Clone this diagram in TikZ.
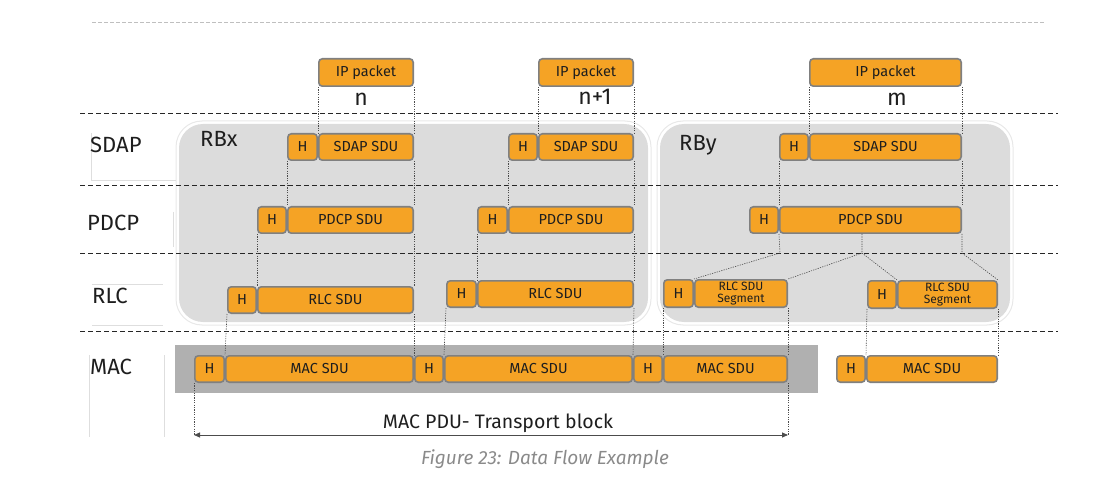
\documentclass[tikz,border=0pt]{standalone}
\usepackage{fontspec}
\setmainfont{Fira Sans}
\usetikzlibrary{arrows.meta}
\definecolor{orng}{HTML}{F5A325}
\definecolor{bdr}{HTML}{808080}
\definecolor{rbg}{HTML}{DCDCDC}
\definecolor{rbo}{HTML}{E8E8E8}
\definecolor{macg}{HTML}{B0B0B0}
\definecolor{capg}{HTML}{8A8A8A}
\definecolor{txt}{HTML}{1E1E1E}
\definecolor{faint}{HTML}{DEDEDE}
\newcommand\ORbox[6]{%
  \pgfmathsetmacro\bcx{(#2+#4)/2}\pgfmathsetmacro\bcy{(#3+#5)/2}%
  \pgfmathsetmacro\bww{#4-#2-1.6}\pgfmathsetmacro\bhh{#5-#3-1.6}%
  \node[obox,minimum width=\bww pt,minimum height=\bhh pt] (#1) at (\bcx,\bcy) {#6};}
\tikzset{
  obox/.style={draw=bdr,fill=orng,line width=1.6pt,rounded corners=3.5pt,inner sep=0pt,
    font=\fontsize{14.5}{15}\selectfont,text=txt},
  segtxt/.style={font=\fontsize{12}{11.5}\selectfont,align=center},
  layer/.style={anchor=base west,font=\fontsize{22}{24}\selectfont,text=txt,inner sep=0pt},
  seq/.style={anchor=base,font=\fontsize{23}{25}\selectfont,text=txt,inner sep=0pt},
  sep/.style={draw=black!85,line width=0.9pt,dash pattern=on 5pt off 3pt},
  dotl/.style={draw=black!70,line width=0.6pt,dash pattern=on 1.2pt off 1.2pt},
  fline/.style={draw=faint,line width=0.8pt},
}
\begin{document}
\begin{tikzpicture}[x=1pt,y=-1pt]
\useasboundingbox (0,0) rectangle (1095,489);
% top faint dashed line
\draw[draw=black!25,line width=0.8pt,dash pattern=on 4pt off 2pt] (92,22) -- (1045,22);
% RB regions
\draw[rbo,line width=1pt,rounded corners=26pt] (176,121) rectangle (651,325);
\fill[rbg,rounded corners=24pt] (179,124) rectangle (648,322);
\draw[rbo,line width=1pt,rounded corners=26pt] (657,121) rectangle (1013,325);
\fill[rbg,rounded corners=24pt] (660,124) rectangle (1010,322);
% MAC band
\fill[macg] (175,345) rectangle (818,393);
% separators
\draw[sep] (80,113) -- (1058,113);
\draw[sep] (80,185) -- (1058,185);
\draw[sep] (80,253) -- (1058,253);
\draw[sep] (80,331) -- (1058,331);
% faint artefact lines near layer labels
\draw[fline] (91,133) -- (91,180) -- (176,180);
\draw[fline] (173,212) -- (173,247);
\draw[fline] (92,284) -- (163,284);
\draw[fline] (92,325) -- (163,325);
\draw[fline] (89,355) -- (89,437);
\draw[fline] (164,355) -- (164,437);
% layer labels
\node[layer] (lsdap) at (90,153) {SDAP};
\node[layer] (lpdcp) at (87,231) {PDCP};
\node[layer] (lrlc) at (92,303) {RLC};
\node[layer] (lmac) at (90,374) {MAC};
\node[layer] (rbx) at (200,147) {RBx};
\node[layer] (rby) at (679,151) {RBy};
% IP packets
\ORbox{ipn}{318}{58}{414}{87}{IP packet}
\ORbox{ipn1}{538}{58}{634}{87}{IP packet}
\ORbox{ipm}{809}{58}{962}{87}{IP packet}
\node[seq] (ln) at (361,106) {n};
\node[seq] (ln1) at (595,105) {n+1};
\node[seq] (lm) at (897,106) {m};
% SDAP
\ORbox{sdhn}{287}{133}{318}{161}{H}
\ORbox{sdsn}{318}{133}{414}{161}{SDAP SDU}
\ORbox{sdhn1}{508}{133}{538}{161}{H}
\ORbox{sdsn1}{538}{133}{634}{161}{SDAP SDU}
\ORbox{sdhm}{779}{133}{809}{161}{H}
\ORbox{sdsm}{809}{133}{962}{161}{SDAP SDU}
% PDCP
\ORbox{pdhn}{257}{206}{287}{234}{H}
\ORbox{pdsn}{287}{206}{414}{234}{PDCP SDU}
\ORbox{pdhn1}{477}{206}{508}{234}{H}
\ORbox{pdsn1}{508}{206}{634}{234}{PDCP SDU}
\ORbox{pdhm}{749}{206}{779}{234}{H}
\ORbox{pdsm}{779}{206}{962}{234}{PDCP SDU}
% RLC
\ORbox{rlhn}{227}{286}{257}{314}{H}
\ORbox{rlsn}{257}{286}{414}{314}{RLC SDU}
\ORbox{rlhn1}{446}{280}{477}{308}{H}
\ORbox{rlsn1}{477}{280}{634}{308}{RLC SDU}
\ORbox{rlh1}{663}{279}{694}{308}{H}
\ORbox{rls1}{694}{279}{788}{308}{\tikz[baseline]\node[segtxt,inner sep=0pt]{RLC SDU\\Segment};}
\ORbox{rlh2}{867}{280}{897}{309}{H}
\ORbox{rls2}{897}{280}{998}{309}{\tikz[baseline]\node[segtxt,inner sep=0pt]{RLC SDU\\Segment};}
% MAC
\ORbox{mah1}{194}{355}{225}{383}{H}
\ORbox{mas1}{225}{355}{414}{383}{MAC SDU}
\ORbox{mah2}{414}{355}{444}{383}{H}
\ORbox{mas2}{444}{355}{633}{383}{MAC SDU}
\ORbox{mah3}{633}{355}{663}{383}{H}
\ORbox{mas3}{663}{355}{788}{383}{MAC SDU}
\ORbox{mah4}{836}{355}{866}{383}{H}
\ORbox{mas4}{866}{355}{998}{383}{MAC SDU}
% helper coordinates
\coordinate (al) at (194,435);
\coordinate (ar) at (788,435);
\coordinate (mL) at (780,253);
\coordinate (mM) at (862,253);
\coordinate (mR) at (962,253);
% dotted connectors: n
\draw[dotl] (ipn.south west) -- (sdsn.north west);
\draw[dotl] (ipn.south east) -- (sdsn.north east);
\draw[dotl] (sdhn.south west) -- (pdsn.north west);
\draw[dotl] (sdsn.south east) -- (pdsn.north east);
\draw[dotl] (pdhn.south west) -- (rlsn.north west);
\draw[dotl] (pdsn.south east) -- (rlsn.north east);
\draw[dotl] (rlhn.south west) -- (mas1.north west);
\draw[dotl] (rlsn.south east) -- (mas1.north east);
\draw[dotl] (mah1.south west) -- (al);
% n+1
\draw[dotl] (ipn1.south west) -- (sdsn1.north west);
\draw[dotl] (ipn1.south east) -- (sdsn1.north east);
\draw[dotl] (sdhn1.south west) -- (pdsn1.north west);
\draw[dotl] (sdsn1.south east) -- (pdsn1.north east);
\draw[dotl] (pdhn1.south west) -- (rlsn1.north west);
\draw[dotl] (pdsn1.south east) -- (rlsn1.north east);
\draw[dotl] (rlhn1.south west) -- (mas2.north west);
\draw[dotl] (rlsn1.south east) -- (mas2.north east);
% m
\draw[dotl] (ipm.south west) -- (sdsm.north west);
\draw[dotl] (ipm.south east) -- (sdsm.north east);
\draw[dotl] (sdhm.south west) -- (pdsm.north west);
\draw[dotl] (sdsm.south east) -- (pdsm.north east);
\draw[dotl] (pdsm.south west) -- (mL) -- (rls1.north west);
\draw[dotl] (pdsm.south -| mM) -- (mM) -- (rls1.north east);
\draw[dotl] (mM) -- (rls2.north west);
\draw[dotl] (pdsm.south east) -- (mR) -- (rls2.north east);
\draw[dotl] (rlh1.south west) -- (mas3.north west);
\draw[dotl] (rls1.south east) -- (mas3.north east);
\draw[dotl] (mas3.south east) -- (ar);
\draw[dotl] (rlh2.south west) -- (mas4.north west);
\draw[dotl] (rls2.south east) -- (mas4.north east);
% transport block arrow
\draw[draw=black!70,line width=0.8pt,{Triangle[length=6pt,width=5pt]}-{Triangle[length=6pt,width=5pt]}] (al) -- (ar);
\node[anchor=base,font=\fontsize{19.5}{21}\selectfont,text=txt,inner sep=0pt] (tb) at (498,428) {MAC PDU- Transport block};
\node[anchor=base,font=\fontsize{19}{21}\selectfont\itshape,text=capg,inner sep=0pt] (cap) at (545,464) {Figure 23: Data Flow Example};
\end{tikzpicture}
\end{document}
